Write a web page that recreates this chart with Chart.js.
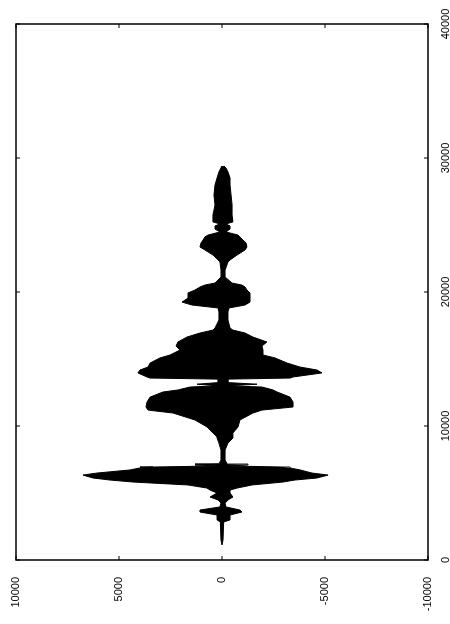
<!DOCTYPE html>
<html>
<head>
<meta charset="utf-8">
<script src="https://cdn.jsdelivr.net/npm/chart.js@4.4.1/dist/chart.umd.min.js"></script>
<style>
  html, body { margin: 0; padding: 0; background: #fff; overflow: hidden; }
  /* the plot is printed turned a quarter turn to the left */
  #wrap {
    position: absolute; left: 0; top: 0;
    width: 624px; height: 450px;
    transform-origin: 0 0;
    transform: translateY(624px) rotate(-90deg);
  }
</style>
</head>
<body>
<div id="wrap"><canvas id="waveChart" width="624" height="450"></canvas></div>
<script>
// sample index and the peak envelope
const samples = [
    1120, 1490, 2840, 2990, 3360, 3580, 3730, 3960, 4250, 4480,
    4700, 5000, 5220, 5370, 5600, 5820, 5970, 6120, 6340, 6490,
    6720, 6870, 6940, 7020, 7090, 7160, 7460, 8210, 8730, 9100, 9180,
    9480, 9930, 10450, 10970, 11190, 11420, 11790, 12160, 12540, 12690,
    12910, 13000, 13120, 13240, 13500, 13580, 13660, 13960, 14180, 14400, 14700, 15080,
    15300, 15670, 15970, 16270, 16640, 16940, 17160, 17310, 17910, 18510,
    18810, 19030, 19250, 19550, 19930, 20150, 20370, 20520, 20670, 21120,
    21640, 22240, 22390, 22760, 23140, 23360, 23660, 23880, 24110, 24250,
    24480, 24700, 24930, 25080, 25230, 25750, 26490, 27240, 27990, 28510,
    28960, 29260, 29400
];
const upperPeaks = [
    0, 50, 80, 240, 240, 1070, 1070, 100, 50, 190,
    580, 240, 580, 730, 1650, 4320, 5440, 6260, 6750, 6070,
    4470, 3980, 3350, 200, 1310, 150, 50, 50, 150, 240, 240,
    440, 730, 1310, 2380, 3590, 3690, 3640, 3490, 2860, 2140,
    1550, 200, 1210, 200, 200, 3490, 3640, 4080, 3980, 3590, 3490, 3010,
    2520, 2040, 2230, 2140, 1700, 1070, 440, 340, 150, 150,
    190, 1460, 1940, 1650, 1650, 1310, 1070, 830, 340, 50,
    50, 100, 190, 440, 830, 1070, 1020, 920, 830, 680,
    100, 340, 340, 100, 440, 440, 340, 390, 340, 240,
    150, 50, 20
];
const lowerPeaks = [
    0, -50, -80, -390, -390, -970, -870, -190, -150, -290,
    -530, -390, -390, -730, -1460, -2960, -3540, -4610, -5150, -4370,
    -3790, -3300, -2960, -290, -1260, -250, -150, -150, -290, -530, -530,
    -530, -780, -870, -1500, -1940, -3450, -3450, -3300, -2670, -2480,
    -1940, -300, -1700, -300, -300, -3300, -3450, -4850, -4610, -3790, -3160, -2570,
    -1990, -1990, -1940, -2180, -1500, -1120, -530, -390, -290, -290,
    -340, -1120, -1360, -1360, -1360, -1210, -1120, -970, -490, -150,
    -150, -290, -390, -730, -1120, -1210, -1170, -1020, -870, -780,
    -190, -390, -390, -190, -530, -490, -490, -440, -390, -390,
    -290, -190, -100
];

const xTicks = [0, 10000, 20000, 30000, 40000];
const yTicks = [-10000, -5000, 0, 5000, 10000];

// box round the plot with short ticks pointing inwards
const boxPlugin = {
    id: 'box',
    afterDatasetsDraw(chart) {
        const { ctx, chartArea: a, scales } = chart;
        ctx.save();
        ctx.strokeStyle = '#000';
        ctx.lineWidth = 1.5;
        ctx.strokeRect(a.left, a.top, a.right - a.left, a.bottom - a.top);
        ctx.lineWidth = 1;
        ctx.beginPath();
        xTicks.forEach(v => {
            const px = scales.x.getPixelForValue(v);
            ctx.moveTo(px, a.bottom); ctx.lineTo(px, a.bottom - 4);
            ctx.moveTo(px, a.top); ctx.lineTo(px, a.top + 4);
        });
        yTicks.forEach(v => {
            const py = scales.y.getPixelForValue(v);
            ctx.moveTo(a.left, py); ctx.lineTo(a.left + 4, py);
            ctx.moveTo(a.right, py); ctx.lineTo(a.right - 4, py);
        });
        ctx.stroke();
        ctx.restore();
    }
};

const tickFont = { family: 'Liberation Sans', size: 11 };

new Chart(document.getElementById('waveChart').getContext('2d'), {
    type: 'line',
    data: {
        datasets: [{
            data: samples.map((s, i) => ({ x: s, y: upperPeaks[i] })),
            borderColor: '#000',
            backgroundColor: '#000',
            borderWidth: 1,
            pointRadius: 0,
            tension: 0,
            fill: '+1'
        }, {
            data: samples.map((s, i) => ({ x: s, y: lowerPeaks[i] })),
            borderColor: '#000',
            backgroundColor: '#000',
            borderWidth: 1,
            pointRadius: 0,
            tension: 0,
            fill: false
        }]
    },
    options: {
        responsive: false,
        animation: false,
        devicePixelRatio: 1,
        layout: { padding: { top: 16, right: 24, left: 0, bottom: 0 } },
        plugins: {
            legend: { display: false },
            tooltip: { enabled: false }
        },
        scales: {
            x: {
                type: 'linear',
                min: 0,
                max: 40000,
                grid: { display: false },
                border: { display: false },
                afterBuildTicks: s => { s.ticks = xTicks.map(v => ({ value: v })); },
                afterFit: s => { s.height = 22; },
                ticks: { color: '#000', font: tickFont, padding: 3, maxRotation: 0,
                    callback: v => String(v) }
            },
            y: {
                min: -10000,
                max: 10000,
                grid: { display: false },
                border: { display: false },
                afterBuildTicks: s => { s.ticks = yTicks.map(v => ({ value: v })); },
                afterFit: s => { s.width = 64; },
                ticks: { color: '#000', font: tickFont, padding: 9,
                    callback: v => String(v) }
            }
        }
    },
    plugins: [boxPlugin]
});
</script>
</body>
</html>
